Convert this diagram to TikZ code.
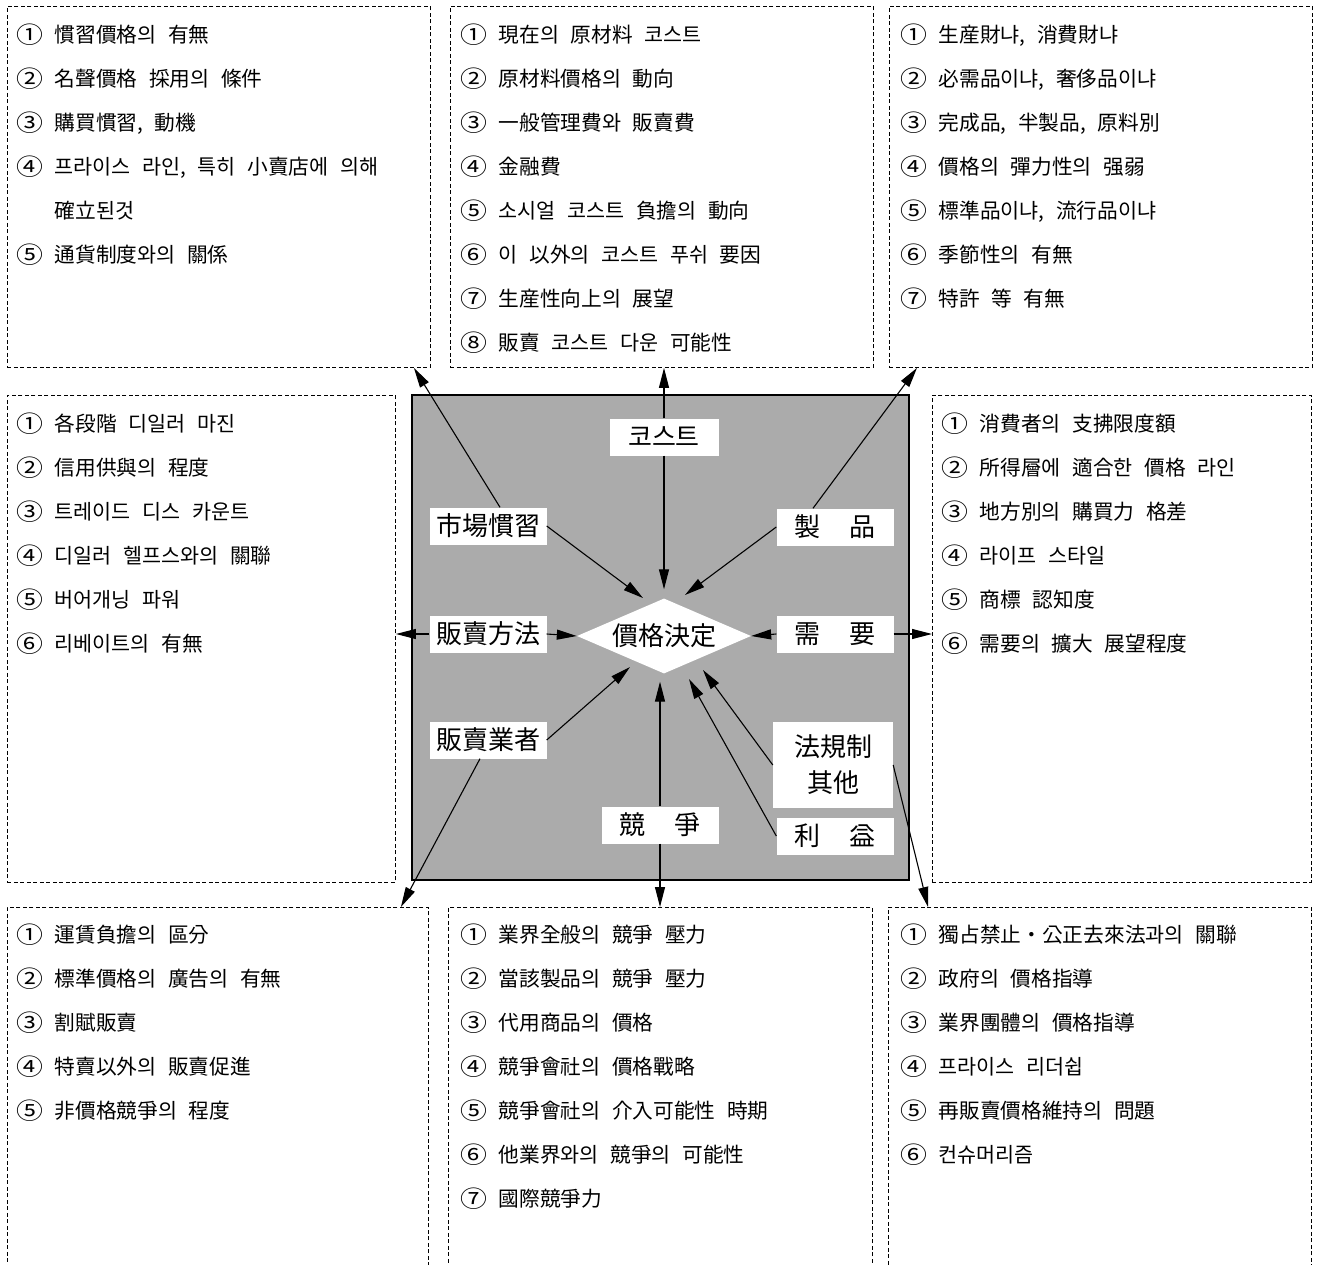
\documentclass[tikz,border=0pt]{standalone}
\usepackage{fontspec}
\setmainfont[WordSpace=2.5]{Noto Sans CJK KR}
\usetikzlibrary{arrows.meta, positioning, calc, shapes.geometric}
\newcommand{\nm}[1]{\raisebox{-1pt}{\scalebox{1.3}[1.12]{#1}}}

\begin{document}
\begin{tikzpicture}[
    x=1pt, y=-1pt,
    frame/.style={draw, dash pattern=on 4pt off 2.5pt, line width=0.9pt, anchor=north west, inner sep=0pt, minimum width=423pt, minimum height=361pt},
    items/.style={align=left, inner sep=0pt, font=\fontsize{20.7}{44}\selectfont},
    factor/.style={fill=white, inner sep=0pt, minimum width=117pt, minimum height=37pt, font=\fontsize{26}{36}\selectfont},
    link/.style={-{Triangle[length=20pt, width=10pt]}, line width=1.1pt}
]
    \useasboundingbox (0,0) rectangle (1319,1265);
    \clip (0,0) rectangle (1319,1265);

    % dashed frames round the lists
    \node[frame] (tlbox) at (7,6) {};
    \node[frame] (tmbox) at (450,6) {};
    \node[frame] (trbox) at (889,6) {};
    \node[frame, minimum width=388pt, minimum height=487pt] (mlbox) at (7,395) {};
    \node[frame, minimum width=379pt, minimum height=487pt] (mrbox) at (932,395) {};
    \node[frame, minimum width=421pt, minimum height=380pt] (blbox) at (7,907) {};
    \node[frame, minimum width=424pt, minimum height=380pt] (bmbox) at (448,907) {};
    \node[frame, minimum width=423pt, minimum height=380pt] (brbox) at (888,907) {};

    \node[items, below right=18pt and 9pt of tlbox.north west] (tllist) {%
        \nm① 慣習價格의 有無\\
        \nm② 名聲價格 採用의 條件\\
        \nm③ 購買慣習, 動機\\
        \nm④ 프라이스 라인, 특히 小賣店에 의해\\
        \hphantom{\nm①} 確立된것\\
        \nm⑤ 通貨制度와의 關係};
    \node[items, below right=18pt and 10pt of tmbox.north west] (tmlist) {%
        \nm① 現在의 原材料 코스트\\
        \nm② 原材料價格의 動向\\
        \nm③ 一般管理費와 販賣費\\
        \nm④ 金融費\\
        \nm⑤ 소시얼 코스트 負擔의 動向\\
        \nm⑥ 이 以外의 코스트 푸쉬 要因\\
        \nm⑦ 生産性向上의 展望\\
        \nm⑧ 販賣 코스트 다운 可能性};
    \node[items, below right=18pt and 11pt of trbox.north west] (trlist) {%
        \nm① 生産財냐, 消費財냐\\
        \nm② 必需品이냐, 奢侈品이냐\\
        \nm③ 完成品, 半製品, 原料別\\
        \nm④ 價格의 彈力性의 强弱\\
        \nm⑤ 標準品이냐, 流行品이냐\\
        \nm⑥ 季節性의 有無\\
        \nm⑦ 特許 等 有無};
    \node[items, below right=18pt and 9pt of mlbox.north west] (mllist) {%
        \nm① 各段階 디일러 마진\\
        \nm② 信用供與의 程度\\
        \nm③ 트레이드 디스 카운트\\
        \nm④ 디일러 헬프스와의 關聯\\
        \nm⑤ 버어개닝 파워\\
        \nm⑥ 리베이트의 有無};
    \node[items, below right=18pt and 9pt of mrbox.north west] (mrlist) {%
        \nm① 消費者의 支拂限度額\\
        \nm② 所得層에 適合한 價格 라인\\
        \nm③ 地方別의 購買力 格差\\
        \nm④ 라이프 스타일\\
        \nm⑤ 商標 認知度\\
        \nm⑥ 需要의 擴大 展望程度};
    \node[items, below right=17pt and 9pt of blbox.north west] (bllist) {%
        \nm① 運賃負擔의 區分\\
        \nm② 標準價格의 廣告의 有無\\
        \nm③ 割賦販賣\\
        \nm④ 特賣以外의 販賣促進\\
        \nm⑤ 非價格競爭의 程度};
    \node[items, below right=17pt and 12pt of bmbox.north west] (bmlist) {%
        \nm① 業界全般의 競爭 壓力\\
        \nm② 當該製品의 競爭 壓力\\
        \nm③ 代用商品의 價格\\
        \nm④ 競爭會社의 價格戰略\\
        \nm⑤ 競爭會社의 介入可能性 時期\\
        \nm⑥ 他業界와의 競爭의 可能性\\
        \nm⑦ 國際競爭力};
    \node[items, below right=17pt and 12pt of brbox.north west] (brlist) {%
        \nm① 獨占禁止・公正去來法과의 關聯\\
        \nm② 政府의 價格指導\\
        \nm③ 業界團體의 價格指導\\
        \nm④ 프라이스 리더쉽\\
        \nm⑤ 再販賣價格維持의 問題\\
        \nm⑥ 컨슈머리즘};

    % shaded centre with the factors
    \node[draw, line width=1.2pt, fill=black!33, minimum width=497pt, minimum height=485pt, inner sep=0pt] (board) at (660.5,637.5) {};
    \node[diamond, fill=white, inner sep=0pt, aspect=2.3, minimum width=174pt, minimum height=75pt, font=\fontsize{26}{36}\selectfont] (price) at (664,636) {價格決定};

    \node[factor, minimum width=109pt] (cost) at (664,437) {코스트};
    \node[factor] (custom) at (488,526) {市場慣習};
    \node[factor] (product) at (835,527) {製\hspace{1.15em}品};
    \node[factor] (method) at (488,634) {販賣方法};
    \node[factor] (demand) at (835,634) {需\hspace{1.15em}要};
    \node[factor] (dealer) at (488,740) {販賣業者};
    \node[factor, align=center, minimum width=120pt, minimum height=86pt] (law) at (833,765) {法規制\\其他};
    \node[factor] (compete) at (660,825) {競\hspace{1.15em}爭};
    \node[factor] (profit) at (835,836) {利\hspace{1.15em}益};

    % arrows into the price decision
    \draw[link, shorten >=9pt] (cost.south) -- (price.north);
    \draw[link] (custom.east) -- ($(price)+(-21,-38)$);
    \draw[link] (product.west) -- ($(price)+(21,-41)$);
    \draw[link] (method.east) -- (price.west);
    \draw[link] (demand.west) -- (price.east);
    \draw[link] (dealer.east) -- ($(price)+(-34,31)$);
    \draw[link, shorten >=8pt] (compete.north) -- (compete.north |- price.south);
    \draw[link] (law.west) -- ($(price)+(39,34)$);
    \draw[link] (profit.west) -- ($(price)+(25,43)$);

    % arrows out to the lists
    \draw[link] (cost.north) -- (cost.north |- tmbox.south);
    \draw[link] ([xshift=12pt]custom.north) -- ([xshift=-17pt]tlbox.south east);
    \draw[link] ([xshift=-22pt]product.north) -- ([xshift=28pt]trbox.south west);
    \draw[link] (method.west) -- (method.west -| mlbox.east);
    \draw[link] (demand.east) -- (demand.east -| mrbox.west);
    \draw[link] ([xshift=-8pt]dealer.south) -- ([xshift=-28pt]blbox.north east);
    \draw[link] (compete.south) -- (compete.south |- bmbox.north);
    \draw[link] (law.east) -- ([xshift=40pt]brbox.north west);
\end{tikzpicture}
\end{document}
